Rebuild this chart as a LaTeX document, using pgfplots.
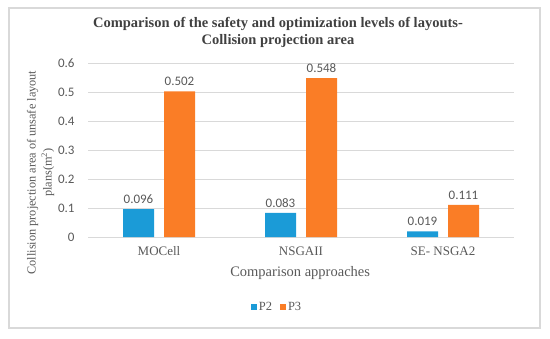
\documentclass[border=0pt]{standalone}
\usepackage{fontspec}
\setmainfont{Liberation Serif}
\newfontfamily\calfont{Carlito}
\usepackage{pgfplots}
\pgfplotsset{compat=1.18}
\definecolor{barblue}{RGB}{27,155,215}
\definecolor{barorange}{RGB}{250,125,38}
\definecolor{gridgray}{RGB}{217,217,217}
\definecolor{txtgray}{RGB}{89,89,89}
\definecolor{titlegray}{RGB}{64,64,64}
\begin{document}
\begin{tikzpicture}
\useasboundingbox (0,0) rectangle (550bp,-339bp);
\draw[draw=gridgray, line width=1.2bp] (9bp,-8bp) rectangle (540bp,-328bp);
\begin{axis}[
  at={(88bp,-237bp)}, anchor=south west,
  scale only axis, width=426bp, height=174bp,
  ybar, bar width=31bp,
  xmin=-0.5, xmax=2.5, ymin=0, ymax=0.6,
  xtick={0,1,2}, xticklabels={MOCell,NSGAII,SE- NSGA2},
  ytick={0,0.1,0.2,0.3,0.4,0.5,0.6},
  yticklabel style={/pgf/number format/fixed,/pgf/number format/precision=1},
  /pgf/number format/assume math mode=true,
  yticklabel style={font=\calfont\fontsize{13bp}{15bp}\selectfont, text=txtgray, anchor=east, xshift=-10bp},
  xticklabel style={font=\fontsize{13bp}{15bp}\selectfont, text=txtgray, yshift=-2bp},
  axis line style={draw=none},
  tick style={draw=none},
  ymajorgrids, grid style={gridgray, line width=0.9bp},
  axis on top=false,
  title={Comparison of the safety and optimization levels of layouts-\\Collision projection area},
  title style={font=\bfseries\fontsize{14.5bp}{17bp}\selectfont, text=titlegray, align=center, at={(axis description cs:0.446,1.141)}, anchor=center},
  xlabel={Comparison approaches},
  xlabel style={font=\fontsize{14.5bp}{16bp}\selectfont, text=txtgray, at={(axis description cs:0.498,-0.207)}, anchor=center},
  ylabel={Collision projection area of unsafe layout\\plans(m\textsuperscript{2})},
  ylabel style={font=\fontsize{12.3bp}{16bp}\selectfont, text=txtgray, align=center, at={(axis description cs:-0.1115,0.37)}, anchor=center, rotate=0},
  nodes near coords,
  nodes near coords style={font=\calfont\fontsize{13bp}{15bp}\selectfont, text=txtgray, /pgf/number format/fixed, /pgf/number format/precision=3, /pgf/number format/zerofill, yshift=2bp},
  legend columns=2,
  legend style={draw=none, fill=none, at={(axis description cs:0.4437,-0.402)}, anchor=center, font=\fontsize{12.5bp}{14bp}\selectfont, text=txtgray, /tikz/every even column/.append style={column sep=6bp}},
  legend image code/.code={\fill[#1] (0bp,-3bp) rectangle (6bp,3bp);},
]
\addplot[fill=barblue, draw=none, bar shift=-20.5bp] coordinates {(0,0.096) (1,0.083) (2,0.019)};
\addplot[fill=barorange, draw=none, bar shift=20.5bp] coordinates {(0,0.502) (1,0.548) (2,0.111)};
\legend{P2,P3}
\end{axis}
\end{tikzpicture}
\end{document}
